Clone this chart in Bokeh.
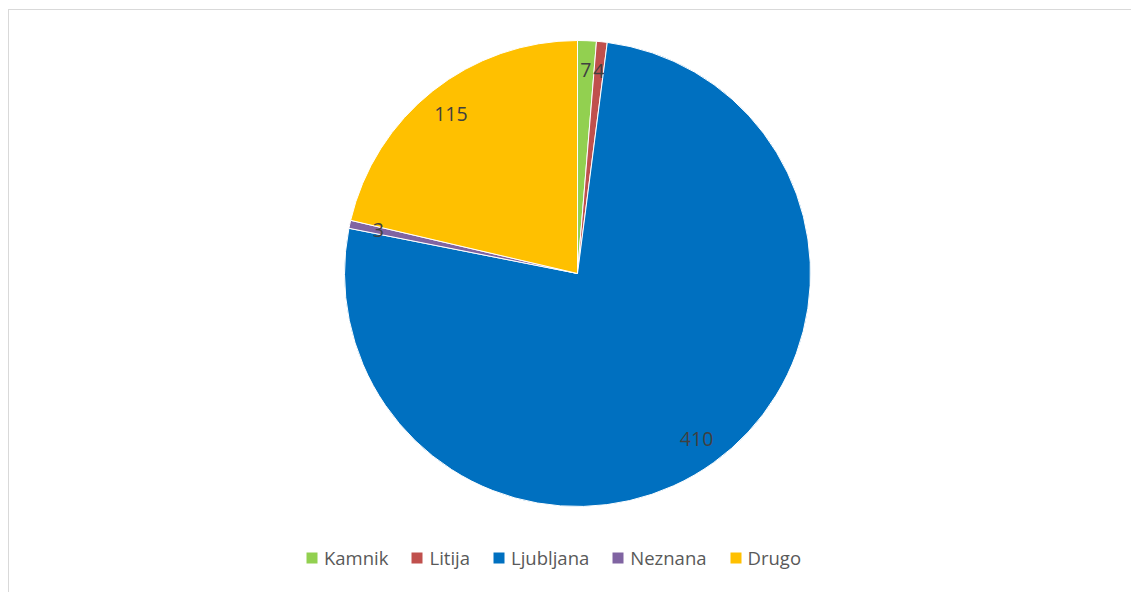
import math
from bokeh.plotting import figure
from bokeh.models import ColumnDataSource, Range1d, Legend, LegendItem, LabelSet
from bokeh.core.properties import value
from bokeh.embed import file_html
from bokeh.resources import INLINE

categories = ["Kamnik", "Litija", "Ljubljana", "Neznana", "Drugo"]
counts = [7, 4, 410, 3, 115]
colors = ["#92D050", "#C0504D", "#0070C0", "#8064A2", "#FFC000"]

W, H = 1123, 583
cx, cy = 568, H - 263
R = 233

total = sum(counts)
starts, ends, lx, ly = [], [], [], []
cum = 0
for c in counts:
    a0 = math.pi / 2 - 2 * math.pi * cum / total
    cum += c
    a1 = math.pi / 2 - 2 * math.pi * cum / total
    starts.append(a0)
    ends.append(a1)
    mid = (a0 + a1) / 2
    lx.append(cx + 0.875 * R * math.cos(mid))
    ly.append(cy + 0.875 * R * math.sin(mid))

src = ColumnDataSource(dict(cat=categories, val=counts, color=colors,
                            start=starts, end=ends, lx=lx, ly=ly,
                            lbl=[str(v) for v in counts],
                            x=[cx] * len(counts), y=[cy] * len(counts)))

p = figure(width=W, height=H, output_backend="svg", toolbar_location=None,
           x_range=Range1d(0, W), y_range=Range1d(0, H), min_border=0)
p.axis.visible = False
p.grid.visible = False
p.outline_line_color = None
p.background_fill_color = "white"
p.border_fill_color = "white"
p.styles = {"margin-left": "8px", "margin-top": "9px",
            "border-top": "1px solid #d9d9d9", "border-left": "1px solid #d9d9d9"}

r = p.wedge(x="x", y="y", radius=R, radius_units="screen", start_angle="start",
            end_angle="end", direction="clock", fill_color="color",
            line_color="white", line_width=1, source=src)

labels = LabelSet(x="lx", y="ly", text="lbl", source=src, text_align="center",
                  text_baseline="middle", text_font=value("Open Sans"),
                  text_font_size="19.5px", text_color="#404040")
p.add_layout(labels)

items = [LegendItem(label=c, renderers=[r], index=i) for i, c in enumerate(categories)]
legend = Legend(items=items, orientation="horizontal", location=(295, 23),
                glyph_width=15, glyph_height=15, label_standoff=5, spacing=21,
                label_text_font="Open Sans", label_text_font_size="18.5px",
                label_text_color="#595959", border_line_color=None,
                background_fill_alpha=0, padding=0, margin=0, label_height=20)
p.add_layout(legend)

open("out.html", "w").write(file_html(p, INLINE))
